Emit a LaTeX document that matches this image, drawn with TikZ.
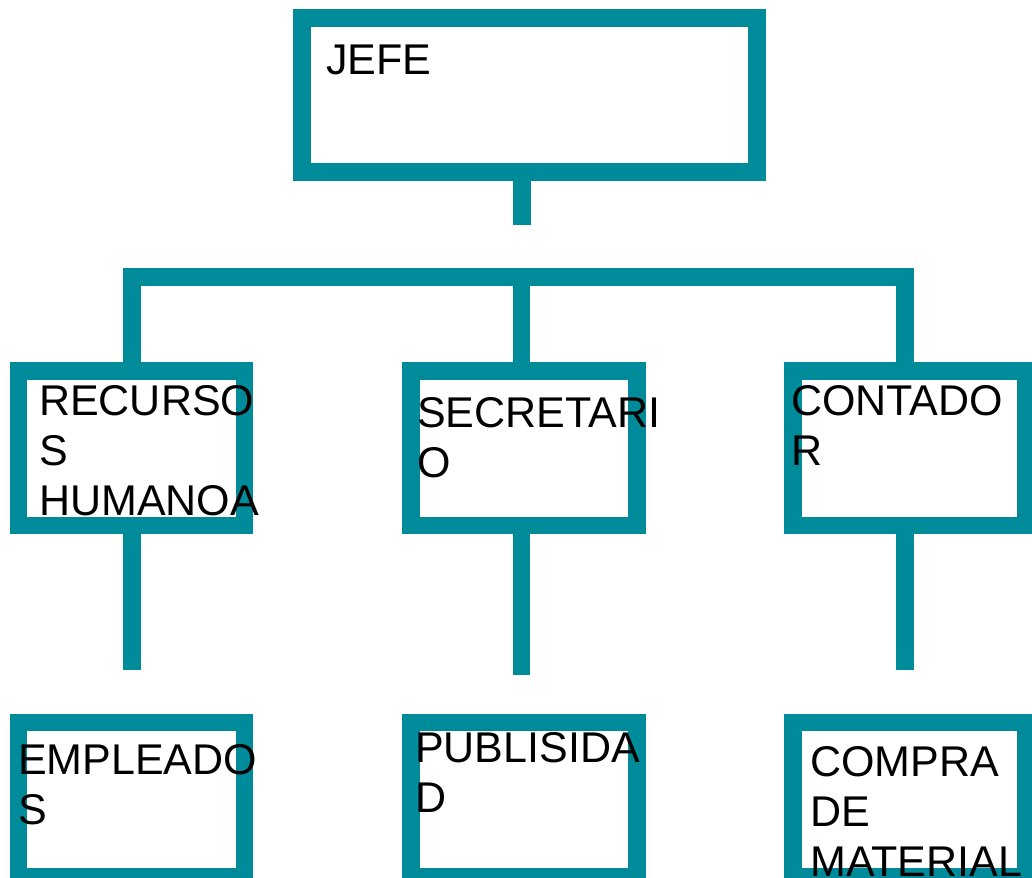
\documentclass[tikz,border=0pt]{standalone}
\usepackage{fontspec}
\setmainfont{Liberation Sans}
\definecolor{teal1}{RGB}{0,139,154}
\newcommand{\stk}[1]{\vtop{\baselineskip=50pt\lineskiplimit=-100pt\halign{##\hfil\cr#1\crcr}}}
\begin{document}
\begin{tikzpicture}[x=1pt,y=-1pt,
  orgbox/.style={draw=teal1,line width=17.5pt,rectangle,inner sep=0pt,minimum width=226pt,minimum height=154.5pt},
  lbl/.style={anchor=base west,inner sep=0pt,text=black,font=\fontsize{43}{50}\selectfont},
  conn/.style={draw=teal1,line width=17.5pt}]
\useasboundingbox (0,0) rectangle (1032,877);
\clip (0,0) rectangle (1032,877);
% boxes
\node[orgbox,minimum width=455pt,minimum height=154pt] (jefe) at (529.5,95) {};
\node[orgbox] (rh) at (131.5,448) {};
\node[orgbox] (sec) at (524,448) {};
\node[orgbox,minimum width=233pt] (cont) at (909.5,448) {};
\node[orgbox] (emp) at (131.5,799.5) {};
\node[orgbox] (pub) at (524,799.5) {};
\node[orgbox,minimum width=233pt] (comp) at (909.5,799.5) {};
% connector coordinates
\coordinate (j1) at (522,172);
\coordinate (j2) at (522,225);
\coordinate (b1) at (132,370);
\coordinate (b2) at (132,277);
\coordinate (b3) at (905,277);
\coordinate (b4) at (905,370);
\coordinate (m1) at (521.5,277);
\coordinate (m2) at (521.5,370);
\coordinate (l1) at (132,526);
\coordinate (l2) at (132,670);
\coordinate (s1) at (521.5,526);
\coordinate (s2) at (521.5,675);
\coordinate (c1) at (905,526);
\coordinate (c2) at (905,670);
% connectors
\path[conn] (j1) -- (j2);
\path[conn,line join=miter] (b1) -- (b2) -- (b3) -- (b4);
\path[conn] (m1) -- (m2);
\path[conn] (l1) -- (l2);
\path[conn] (s1) -- (s2);
\path[conn] (c1) -- (c2);
% labels
\node[lbl] (tj) at (326,75) {JEFE};
\node[lbl] (trh) at (39,415) {\stk{RECURSO\cr S\cr HUMANOA}};
\node[lbl] (tsec) at (417,427) {\stk{SECRETARI\cr O}};
\node[lbl] (tcont) at (791,415) {\stk{CONTADO\cr R}};
\node[lbl] (temp) at (18,774) {\stk{EMPLEADO\cr S}};
\node[lbl] (tpub) at (415,762) {\stk{PUBLISIDA\cr D}};
\node[lbl] (tcomp) at (810,776) {\stk{COMPRA\cr DE\cr MATERIAL}};
\end{tikzpicture}
\end{document}
